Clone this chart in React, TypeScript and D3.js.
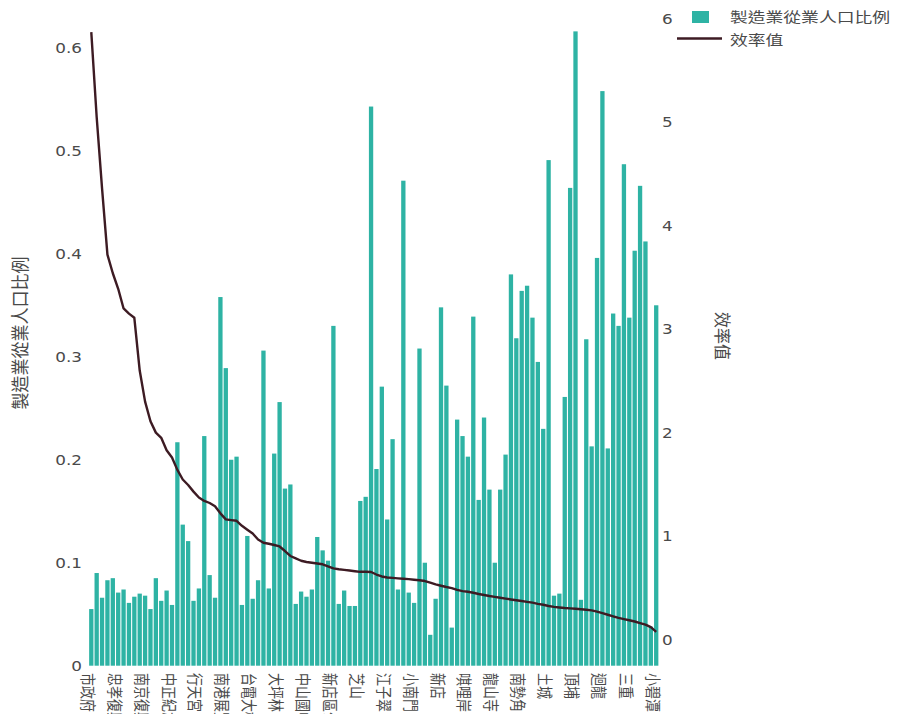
import React from 'react';
import * as d3 from 'd3';

// Stations ordered by efficiency (descending)
const stations = [
  '市政府', '台北車站', '西門', '忠孝敦化', '國父紀念館',
  '忠孝復興', '中山', '忠孝新生', '台北101/世貿', '雙連',
  '南京復興', '松江南京', '東門', '台大醫院', '善導寺',
  '中正紀念堂', '內湖', '港墘', '西湖', '大安',
  '行天宮', '文德', '古亭', '公館', '南港',
  '南港展覽館', '劍南路', '大直', '民權西路', '科技大樓',
  '台電大樓', '信義安和', '劍潭', '圓山', '士林',
  '大坪林', '大湖公園', '東湖', '葫洲', '北門',
  '中山國中', '大安森林公園', '象山', '萬隆', '六張犁',
  '新店區公所', '景美', '南京三民', '台北小巨蛋', '松山',
  '芝山', '七張', '昆陽', '後山埤', '永春',
  '江子翠', '板橋', '新埔', '府中', '亞東醫院',
  '小南門', '中山國小', '大橋頭', '北投', '明德',
  '新店', '石牌', '萬芳醫院', '萬芳社區', '辛亥',
  '唭哩岸', '奇岩', '麟光', '木柵', '動物園',
  '龍山寺', '淡水', '紅樹林', '竹圍', '關渡',
  '南勢角', '景安', '永安市場', '頂溪', '海山',
  '土城', '永寧', '台北橋', '菜寮', '先嗇宮',
  '頂埔', '頭前庄', '新莊', '輔大', '丹鳳',
  '迴龍', '三重國小', '三和國中', '徐匯中學', '三民高中',
  '三重', '蘆洲', '忠義', '復興崗', '南港軟體園區',
  '小碧潭',
];

// 製造業從業人口比例 per station
const manufacturingShare = [
  0.055, 0.090, 0.066, 0.083, 0.085,
  0.071, 0.074, 0.061, 0.067, 0.070,
  0.068, 0.055, 0.085, 0.063, 0.073,
  0.059, 0.217, 0.137, 0.121, 0.063,
  0.075, 0.223, 0.088, 0.066, 0.358,
  0.289, 0.200, 0.203, 0.059, 0.126,
  0.065, 0.083, 0.306, 0.075, 0.206,
  0.256, 0.172, 0.176, 0.060, 0.072,
  0.067, 0.074, 0.125, 0.112, 0.102,
  0.330, 0.060, 0.073, 0.058, 0.058,
  0.160, 0.164, 0.543, 0.191, 0.271,
  0.142, 0.220, 0.074, 0.471, 0.071,
  0.061, 0.308, 0.100, 0.030, 0.065,
  0.348, 0.272, 0.037, 0.239, 0.223,
  0.203, 0.339, 0.161, 0.241, 0.171,
  0.100, 0.171, 0.205, 0.380, 0.318,
  0.364, 0.369, 0.338, 0.295, 0.230,
  0.491, 0.068, 0.070, 0.261, 0.464,
  0.616, 0.064, 0.317, 0.213, 0.396,
  0.558, 0.211, 0.342, 0.330, 0.487,
  0.338, 0.403, 0.466, 0.412, 0.038,
  0.350,
];

// 效率值 per station
const efficiency = [
  5.87, 5.05, 4.36, 3.72, 3.54,
  3.39, 3.20, 3.15, 3.11, 2.60,
  2.30, 2.11, 2.00, 1.95, 1.83,
  1.76, 1.64, 1.547, 1.494, 1.43,
  1.373, 1.34, 1.32, 1.288, 1.22,
  1.162, 1.155, 1.148, 1.10, 1.062,
  1.025, 0.967, 0.936, 0.926, 0.914,
  0.90, 0.856, 0.808, 0.785, 0.762,
  0.75, 0.743, 0.736, 0.728, 0.708,
  0.688, 0.68, 0.674, 0.668, 0.661,
  0.655, 0.655, 0.653, 0.629, 0.61,
  0.60, 0.596, 0.592, 0.588, 0.584,
  0.578, 0.573, 0.566, 0.55, 0.533,
  0.52, 0.508, 0.498, 0.481, 0.468,
  0.462, 0.453, 0.441, 0.431, 0.421,
  0.413, 0.405, 0.396, 0.388, 0.38,
  0.373, 0.365, 0.357, 0.345, 0.337,
  0.325, 0.316, 0.31, 0.305, 0.302,
  0.298, 0.293, 0.288, 0.282, 0.27,
  0.255, 0.24, 0.225, 0.21, 0.198,
  0.187, 0.175, 0.16, 0.145, 0.12,
  0.075,
];

// Category tick labels shown along the x axis
const tickStations = [
  '市政府', '忠孝復興', '南京復興', '中正紀念堂', '行天宮', '南港展覽館',
  '台電大樓', '大坪林', '中山國中', '新店區公所', '芝山', '江子翠',
  '小南門', '新店', '唭哩岸', '龍山寺', '南勢角', '土城', '頂埔',
  '迴龍', '三重', '小碧潭',
];
const leftTicks = [0, 0.1, 0.2, 0.3, 0.4, 0.5, 0.6];
const rightTicks = [0, 1, 2, 3, 4, 5, 6];

const BAR = '#2eb3a4';
const LINE = '#3d1b23';
const TEXT = '#4a4a4a';
const NUM_FONT = '"DejaVu Sans", Verdana, sans-serif';
const CJK_FONT = '"Noto Sans CJK TC", "Noto Sans CJK SC", sans-serif';

export default function App() {
  const W = 898;
  const H = 714;
  const plot = { left: 88.6, right: 658.9, top: 1, bottom: 665.7 };

  const x = d3
    .scaleBand<string>()
    .domain(stations)
    .range([plot.left, plot.right])
    .paddingInner(0.2)
    .paddingOuter(0.1);
  const yL = d3.scaleLinear().domain([0, 0.6455]).range([plot.bottom, plot.top]);
  const yR = d3.scaleLinear().domain([-0.2522, 6.171]).range([plot.bottom, plot.top]);

  const cx = (name: string) => (x(name) as number) + x.bandwidth() / 2;

  const linePath = d3
    .line<number>()
    .x((_, i) => cx(stations[i]))
    .y((d) => yR(d))(efficiency) as string;

  const sx = 1.2; // horizontal text stretch
  const tickFont = 13;

  return (
    <svg
      width={W}
      height={H}
      style={{ position: 'absolute', left: 0, top: 0, background: '#fff' }}
    >
      {/* bars */}
      <g>
        {stations.map((s, i) => (
          <rect
            key={s}
            x={x(s)}
            y={yL(manufacturingShare[i])}
            width={x.bandwidth()}
            height={plot.bottom - yL(manufacturingShare[i])}
            fill={BAR}
          />
        ))}
      </g>

      {/* efficiency line */}
      <path d={linePath} fill="none" stroke={LINE} strokeWidth={2.4} strokeLinejoin="round" />

      {/* left axis tick labels */}
      {leftTicks.map((t) => (
        <text
          key={'l' + t}
          transform={`translate(82,${yL(t)}) scale(${sx},1)`}
          textAnchor="end"
          dy="0.36em"
          fontFamily={NUM_FONT}
          fontSize={14}
          fill={TEXT}
        >
          {t === 0 ? '0' : d3.format('.1f')(t)}
        </text>
      ))}

      {/* right axis tick labels */}
      {rightTicks.map((t) => (
        <text
          key={'r' + t}
          transform={`translate(662,${yR(t)}) scale(${sx},1)`}
          textAnchor="start"
          dy="0.36em"
          fontFamily={NUM_FONT}
          fontSize={14}
          fill={TEXT}
        >
          {t}
        </text>
      ))}

      {/* x axis category labels, rotated */}
      {tickStations.map((s) => {
        const ax = cx(s) - 3.5 - 0.38 * tickFont * sx;
        return (
          <text
            key={'x' + s}
            transform={`translate(${ax},673) scale(${sx},1) rotate(90)`}
            textAnchor="start"
            fontFamily={CJK_FONT}
            fontSize={tickFont}
            fill={TEXT}
          >
            {s}
          </text>
        );
      })}

      {/* axis titles */}
      <text
        transform={`translate(20,333) scale(1.1,1) rotate(-90)`}
        textAnchor="middle"
        dy="0.35em"
        fontFamily={CJK_FONT}
        fontSize={17}
        fill={TEXT}
      >
        製造業從業人口比例
      </text>
      <text
        transform={`translate(722,336) scale(1.1,1) rotate(90)`}
        textAnchor="middle"
        dy="0.35em"
        fontFamily={CJK_FONT}
        fontSize={16}
        fill={TEXT}
      >
        效率值
      </text>

      {/* legend */}
      <g>
        <rect x={692} y={11} width={17} height={12} fill={BAR} />
        <text
          transform={`translate(730,17) scale(1.27,1)`}
          dy="0.35em"
          fontFamily={CJK_FONT}
          fontSize={14}
          fill={TEXT}
        >
          製造業從業人口比例
        </text>
        <line x1={677} x2={722} y1={38.5} y2={38.5} stroke={LINE} strokeWidth={2.4} />
        <text
          transform={`translate(730,40) scale(1.27,1)`}
          dy="0.35em"
          fontFamily={CJK_FONT}
          fontSize={14}
          fill={TEXT}
        >
          效率值
        </text>
      </g>
    </svg>
  );
}
